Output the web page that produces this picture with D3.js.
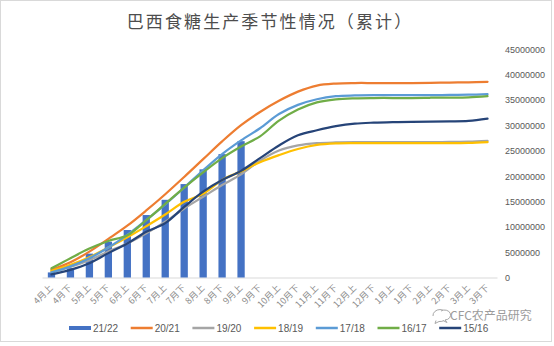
<!DOCTYPE html>
<html>
<head>
<meta charset="utf-8">
<script src="https://cdn.jsdelivr.net/npm/d3@7"></script>
<style>
  html, body { margin: 0; padding: 0; background: #fff; }
  svg { display: block; }
</style>
</head>
<body>
<svg id="chart" width="554" height="346"></svg>
<script>
// Half-month periods of the crop season
const categories = ["4月上","4月下","5月上","5月下","6月上","6月下","7月上","7月下","8月上","8月下","9月上","9月下",
  "10月上","10月下","11月上","11月下","12月上","12月下","1月上","1月下","2月上","2月下","3月上","3月下"];

// Cumulative sugar output (tonnes)
const s2122 = [1000000,1850000,4700000,7050000,9350000,12300000,15300000,18400000,21300000,24300000,26850000];
const s2021 = [1500000,3000000,5100000,7600000,10200000,13200000,16400000,19800000,23300000,26800000,30000000,32600000,
  34800000,36600000,37800000,38200000,38300000,38300000,38300000,38300000,38350000,38400000,38450000,38550000];
const s1920 = [1100000,2100000,3400000,5100000,6700000,8700000,11000000,13600000,15900000,18200000,20300000,23000000,
  25000000,26000000,26450000,26600000,26650000,26650000,26650000,26650000,26650000,26700000,26750000,26900000];
const s1819 = [1300000,2500000,4000000,5900000,7900000,10100000,12400000,14900000,16500000,19200000,20900000,22700000,
  24100000,25300000,26100000,26400000,26450000,26450000,26450000,26450000,26450000,26450000,26500000,26650000];
const s1718 = [1000000,2200000,3800000,5900000,8400000,11300000,14400000,17700000,21100000,24300000,27000000,29400000,
  32200000,34000000,35100000,35700000,35850000,35900000,35900000,35900000,35900000,35950000,36000000,36100000];
const s1617 = [1800000,3800000,5700000,7200000,8300000,11300000,14500000,17700000,20700000,23500000,25800000,27800000,
  30900000,33100000,34500000,35100000,35300000,35350000,35350000,35350000,35400000,35400000,35450000,35700000];
const s1516 = [600000,1500000,2800000,4800000,6700000,9000000,10700000,13900000,16900000,19200000,21000000,23500000,
  26000000,28000000,29000000,29800000,30300000,30500000,30600000,30650000,30700000,30750000,30850000,31300000];

const yTicks = [0,5000000,10000000,15000000,20000000,25000000,30000000,35000000,40000000,45000000];

const seriesNames = ["21/22","20/21","19/20","18/19","17/18","16/17","15/16"];
const seriesColors = ["#4472c4","#ed7d31","#a5a5a5","#ffc000","#5b9bd5","#70ad47","#264478"];

const lineSeries = [
  { name: "20/21", values: s2021, color: seriesColors[1] },
  { name: "19/20", values: s1920, color: seriesColors[2] },
  { name: "18/19", values: s1819, color: seriesColors[3] },
  { name: "17/18", values: s1718, color: seriesColors[4] },
  { name: "16/17", values: s1617, color: seriesColors[5] },
  { name: "15/16", values: s1516, color: seriesColors[6] }
];

const svg = d3.select("#chart");
const textColor = "#595959";

// outer frame
svg.append("rect")
  .attr("x", 0.5).attr("y", 0.5).attr("width", 551).attr("height", 341)
  .attr("fill", "#fff").attr("stroke", "#d9d9d9");

// title
svg.append("text")
  .attr("x", 270).attr("y", 28)
  .attr("text-anchor", "middle")
  .attr("font-family", "'Noto Sans CJK SC', sans-serif")
  .attr("font-size", 17)
  .attr("letter-spacing", 2.1)
  .attr("fill", "#4d4d4d")
  .text("巴西食糖生产季节性情况（累计）");

const pi = 0.615;
const x = d3.scaleBand().domain(categories).range([42, 497]).paddingInner(pi).paddingOuter(pi / 2);
const y = d3.scaleLinear().domain([0, 45000000]).range([277.5, 49]);
const cx = c => x(c) + x.bandwidth() / 2;

// right-hand value axis (labels only)
const yAxis = d3.axisRight(y).tickValues(yTicks).tickSize(0).tickPadding(0).tickFormat(d3.format("d"));
const gy = svg.append("g").attr("transform", "translate(505,0)").call(yAxis);
gy.select(".domain").remove();
gy.selectAll("text")
  .attr("font-family", "'Liberation Sans', Arial, sans-serif")
  .attr("font-size", 9)
  .attr("fill", textColor)
  .attr("dy", "0.35em");

// category axis
const xAxis = d3.axisBottom(x).tickSize(0).tickPadding(0);
const gx = svg.append("g").attr("transform", "translate(0,277.5)").call(xAxis);
gx.select(".domain").attr("stroke", "#d9d9d9").attr("stroke-width", 1);
gx.selectAll(".tick text")
  .attr("font-family", "'Noto Sans CJK SC', sans-serif")
  .attr("font-size", 9)
  .attr("fill", "#8c8c8c")
  .attr("text-anchor", "end")
  .attr("dy", null)
  .attr("y", null)
  .attr("transform", "translate(2,11) rotate(-45)");

// bars for the current season
svg.append("g").selectAll("rect")
  .data(s2122)
  .join("rect")
  .attr("x", (d, i) => x(categories[i]))
  .attr("width", x.bandwidth())
  .attr("y", d => y(d))
  .attr("height", d => y(0) - y(d))
  .attr("fill", seriesColors[0]);

// smoothed season lines
const line = d3.line()
  .x((d, i) => cx(categories[i]))
  .y(d => y(d))
  .curve(d3.curveCatmullRom.alpha(0.5));

svg.append("g").selectAll("path")
  .data(lineSeries)
  .join("path")
  .attr("d", s => line(s.values))
  .attr("fill", "none")
  .attr("stroke", s => s.color)
  .attr("stroke-width", 2.25)
  .attr("stroke-linejoin", "round")
  .attr("stroke-linecap", "round");

// legend
const legend = svg.append("g").attr("transform", "translate(69,328)");
seriesNames.forEach((name, i) => {
  const g = legend.append("g").attr("transform", `translate(${i * 61.7},0)`);
  g.append("line")
    .attr("x1", 0).attr("x2", 22).attr("y1", 0).attr("y2", 0)
    .attr("stroke", seriesColors[i])
    .attr("stroke-width", i === 0 ? 4 : 2.5);
  g.append("text")
    .attr("x", 24).attr("y", 0).attr("dy", "0.35em")
    .attr("font-family", "'Liberation Sans', Arial, sans-serif")
    .attr("font-size", 10)
    .attr("fill", textColor)
    .text(name);
});

// source mark
const mark = svg.append("g").attr("opacity", 0.75);
mark.append("path")
  .attr("d", "M433,316 a7,6 0 1,1 6,5.5 l-4,2 l1,-3")
  .attr("fill", "none").attr("stroke", "#8a8a8a").attr("stroke-width", 1);
mark.append("path")
  .attr("d", "M441,311 a6,5 0 1,1 4,9 l2,2.5 l-4,-2")
  .attr("fill", "#fff").attr("stroke", "#8a8a8a").attr("stroke-width", 1);
mark.append("text")
  .attr("x", 450).attr("y", 320)
  .attr("font-family", "'Noto Sans CJK SC', sans-serif")
  .attr("font-size", 12)
  .attr("fill", "#7a7a7a")
  .text("CFC农产品研究");
</script>
</body>
</html>
